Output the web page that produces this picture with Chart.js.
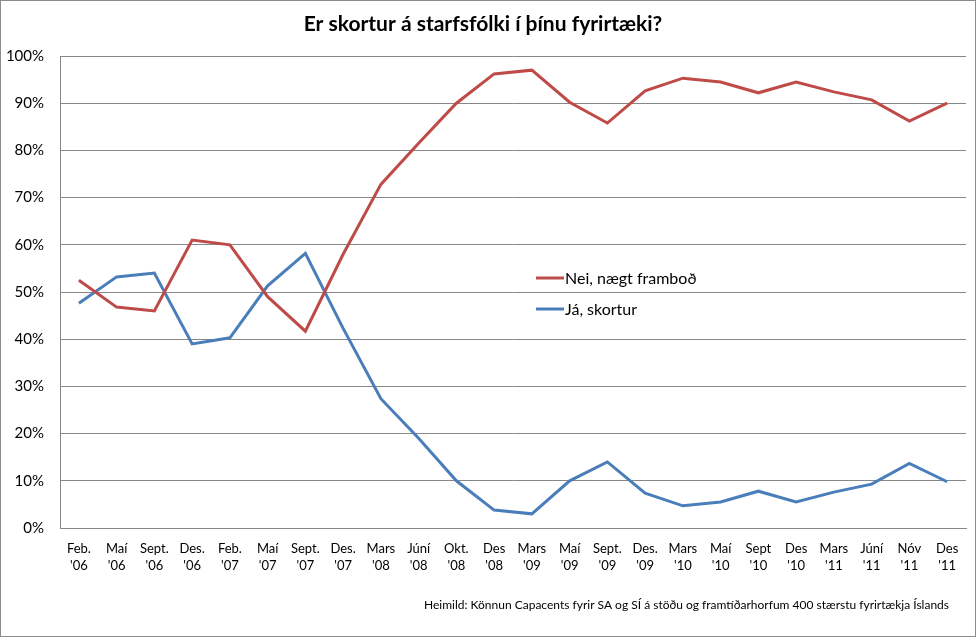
<!DOCTYPE html>
<html>
<head>
<meta charset="utf-8">
<script src="https://cdn.jsdelivr.net/npm/chart.js@4/dist/chart.umd.min.js"></script>
<style>
  body { margin: 0; background: #fff; }
  #wrap { width: 978px; height: 639px; }
</style>
</head>
<body>
<div id="wrap"><canvas id="chart" width="978" height="639"></canvas></div>
<script>
// gögn lesin af myndinni
var manudir = [
	["Feb.", "'06"], ["Maí", "'06"], ["Sept.", "'06"], ["Des.", "'06"],
	["Feb.", "'07"], ["Maí", "'07"], ["Sept.", "'07"], ["Des.", "'07"],
	["Mars", "'08"], ["Júní", "'08"], ["Okt.", "'08"], ["Des", "'08"],
	["Mars", "'09"], ["Maí", "'09"], ["Sept.", "'09"], ["Des.", "'09"],
	["Mars", "'10"], ["Maí", "'10"], ["Sept", "'10"], ["Des", "'10"],
	["Mars", "'11"], ["Júní", "'11"], ["Nóv", "'11"], ["Des", "'11"]
];
var nei = [52.5, 46.8, 46.0, 61.0, 60.0, 49.0, 41.7, 58.0, 72.8, 81.5, 90.0, 96.2,
	97.0, 90.2, 85.8, 92.6, 95.3, 94.5, 92.2, 94.5, 92.4, 90.7, 86.2, 90.0];
var ja = [47.6, 53.2, 54.0, 39.0, 40.3, 51.3, 58.2, 42.3, 27.4, 19.0, 10.0, 3.8,
	3.0, 10.0, 14.0, 7.4, 4.7, 5.5, 7.8, 5.5, 7.6, 9.3, 13.7, 9.8];
var rodLabels = ['Nei, nægt framboð', 'Já, skortur'];
var yTicks = [0, 10, 20, 30, 40, 50, 60, 70, 80, 90, 100];
var heimild = 'Heimild: Könnun Capacents fyrir SA og SÍ á stöðu og framtíðarhorfum 400 stærstu fyrirtækja Íslands';

var rautt = '#BE4B48';
var blatt = '#4A7EBB';
var grid = '#878787';
var letur = 'Lato, "Open Sans", sans-serif';

// legend inni i teikningunni
var innriLegend = {
	id: 'innriLegend',
	afterDraw: function(chart){
		var ctx = chart.ctx;
		var a = chart.chartArea;
		var x = a.left + 476;
		var y = 278;
		ctx.save();
		ctx.font = '16px ' + letur;
		ctx.textBaseline = 'middle';
		chart.data.datasets.forEach(function(ds, i){
			var yy = y + i * 31;
			ctx.strokeStyle = ds.borderColor;
			ctx.lineWidth = 3;
			ctx.beginPath();
			ctx.moveTo(x, yy);
			ctx.lineTo(x + 28, yy);
			ctx.stroke();
			ctx.fillStyle = '#000';
			ctx.fillText(ds.label, x + 29, yy + 1);
		});
		ctx.restore();
	}
};

// heimild + rammi
var rammi = {
	id: 'rammi',
	afterDraw: function(chart){
		var ctx = chart.ctx;
		ctx.save();
		ctx.font = '12px ' + letur;
		ctx.fillStyle = '#000';
		ctx.textAlign = 'right';
		ctx.textBaseline = 'middle';
		ctx.fillText(heimild, chart.chartArea.right - 17, 605);
		ctx.strokeStyle = '#8c8c8c';
		ctx.lineWidth = 1;
		ctx.strokeRect(0.5, 0.5, 975, 636);
		ctx.restore();
	}
};

var ctx = document.getElementById('chart');
var grafico = new Chart(ctx, {
	type: 'line',
	data: {
		labels: manudir,
		datasets: [{
			label: rodLabels[0],
			data: nei,
			borderColor: rautt,
			backgroundColor: rautt,
			borderWidth: 3,
			pointRadius: 0,
			tension: 0
		}, {
			label: rodLabels[1],
			data: ja,
			borderColor: blatt,
			backgroundColor: blatt,
			borderWidth: 3,
			pointRadius: 0,
			tension: 0
		}]
	},
	options: {
		responsive: false,
		animation: false,
		layout: { padding: { left: 0, right: 12, top: 0, bottom: 61 } },
		plugins: {
			legend: { display: false },
			tooltip: { enabled: false },
			title: {
				display: true,
				text: 'Er skortur á starfsfólki í þínu fyrirtæki?',
				color: '#000',
				font: { family: letur, size: 21, weight: 'bold' },
				padding: { top: 12, bottom: 18.8 }
			}
		},
		scales: {
			x: {
				offset: true,
				grid: { display: false, drawTicks: false },
				border: { display: true, color: grid, width: 1 },
				ticks: {
					color: '#000',
					font: { family: letur, size: 13, lineHeight: 1.3 },
					padding: 12,
					maxRotation: 0,
					autoSkip: false
				},
				afterFit: function(s){ s.height = 50; }
			},
			y: {
				min: 0,
				max: 100,
				afterBuildTicks: function(s){
					s.ticks = yTicks.map(function(v){ return { value: v }; });
				},
				grid: { color: grid, lineWidth: 1, drawTicks: false },
				border: { display: true, color: grid, width: 1 },
				ticks: {
					color: '#000',
					font: { family: letur, size: 15 },
					padding: 16,
					callback: function(v){ return v + '%'; }
				},
				afterFit: function(s){ s.width = 60; }
			}
		}
	},
	plugins: [innriLegend, rammi]
});
</script>
</body>
</html>
